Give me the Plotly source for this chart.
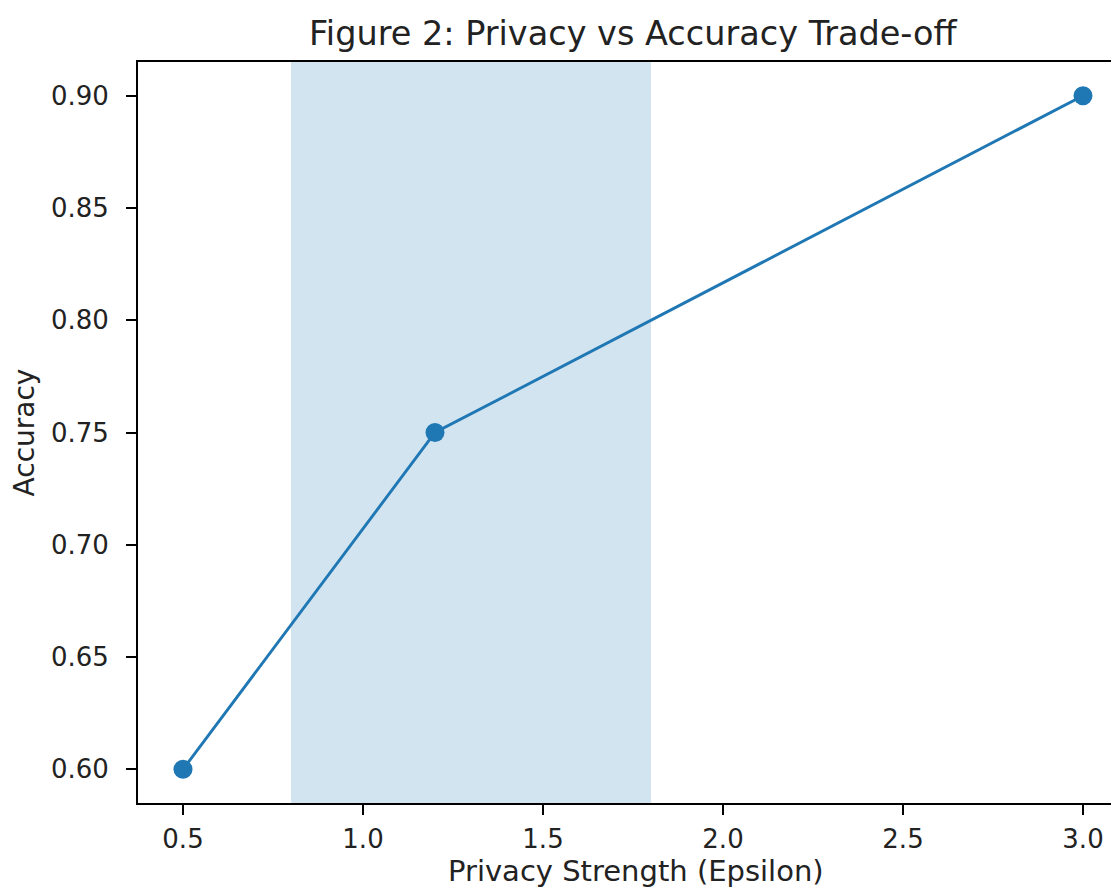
import plotly.graph_objects as go

epsilon = [0.5, 1.2, 3.0]
accuracy = [0.60, 0.75, 0.90]
band = [0.8, 1.8]
x_ticks = [0.5, 1.0, 1.5, 2.0, 2.5, 3.0]
y_ticks = [0.60, 0.65, 0.70, 0.75, 0.80, 0.85, 0.90]

# page has an 8px body margin, so the figure is offset by 8px
W, H = 1111, 879
L, R, T, B = 130, 0, 54, 84
blue = "#1f77b4"
font = "DejaVu Sans"
txt = "#222"

fig = go.Figure()
fig.add_vrect(x0=band[0], x1=band[1], fillcolor="rgba(31,119,180,0.2)", line_width=0, layer="below")
fig.add_trace(go.Scatter(x=epsilon, y=accuracy, mode="lines+markers",
                         line=dict(color=blue, width=2.9),
                         marker=dict(color=blue, size=19), showlegend=False))

axis_common = dict(showgrid=False, zeroline=False, ticks="outside", ticklen=10, tickwidth=2,
                   tickcolor="black", showline=True, linecolor="black", linewidth=2,
                   tickfont=dict(family=font, size=26, color=txt))
fig.update_xaxes(range=[0.375, 3.1], tickvals=x_ticks, ticktext=[f"{v:.1f}" for v in x_ticks],
                 mirror=True, ticklabelstandoff=2, **axis_common)
fig.update_yaxes(range=[0.585, 0.915], tickvals=y_ticks, ticktext=[f"{v:.2f}" for v in y_ticks],
                 mirror=False, ticklabelstandoff=12,
                 title=dict(text="Accuracy", font=dict(family=font, size=28, color=txt), standoff=12),
                 **axis_common)

plot_w = W - L - R
fig.add_annotation(text="Figure 2: Privacy vs Accuracy Trade-off", xref="paper", yref="paper",
                   x=(625 - L) / plot_w, y=1, yshift=29, showarrow=False,
                   font=dict(family=font, size=33.5, color=txt), xanchor="center", yanchor="middle")
fig.add_annotation(text="Privacy Strength (Epsilon)", xref="paper", yref="paper",
                   x=(628 - L) / plot_w, y=0, yshift=-68, showarrow=False,
                   font=dict(family=font, size=29, color=txt), xanchor="center", yanchor="middle")

fig.update_layout(width=W, height=H, margin=dict(l=L, r=R, t=T, b=B),
                  plot_bgcolor="white", paper_bgcolor="white")
fig.write_html("out.html")
